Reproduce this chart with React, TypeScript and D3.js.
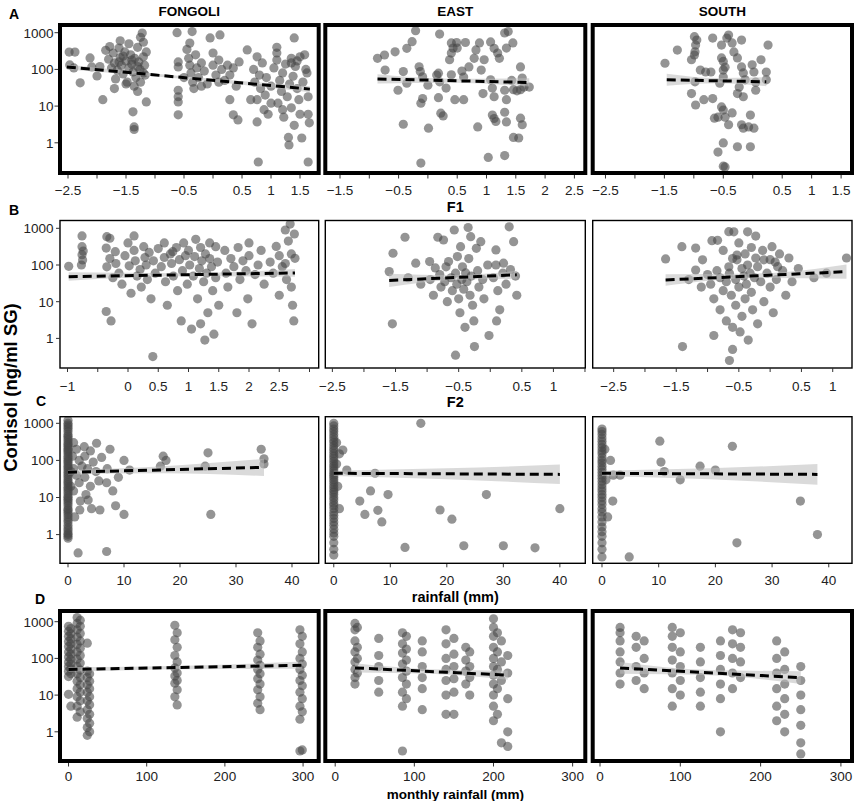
import React, { useEffect, useRef } from 'react';
import * as d3 from 'd3';

type Pt = [number, number];
type Col = [number, number[]];
type Band = [number, number, number];

const sites = ['FONGOLI', 'EAST', 'SOUTH'];
const rowLetters = ['A', 'B', 'C', 'D'];
const xTitles = ['F1', 'F2', 'rainfall (mm)', 'monthly rainfall (mm)'];
const yTicks = [1, 10, 100, 1000];

// tick labels that are printed (marks are drawn at every step)
const labelsF1Fongoli = [-2.5, -1.5, -0.5, 0.5, 1, 1.5];
const labelsF1East = [-1.5, -0.5, 0.5, 1, 1.5, 2, 2.5];
const labelsF1South = [-2.5, -1.5, -0.5, 0.5, 1, 1.5];
const labelsF2Fongoli = [-1, 0, 0.5, 1, 1.5, 2, 2.5];
const labelsF2East = [-2.5, -1.5, -0.5, 0.5, 1];
const labelsF2South = [-2.5, -1.5, -0.5, 0.5, 1];
const labelsRain = [0, 10, 20, 30, 40];
const labelsMonthly = [0, 100, 200, 300];

// ---- A: F1 (x, cortisol ng/ml)
const fongoliF1: Pt[] = [
  [-2.48, 296], [-2.38, 296], [-2.47, 132], [-2.4, 110], [-2.29, 43], [-2.12, 205], [-2.09, 117], [-2.0, 66], [-1.95, 120],
  [-1.9, 15], [-1.85, 330], [-1.8, 190], [-1.78, 420], [-1.72, 280], [-1.7, 150], [-1.68, 55], [-1.65, 95], [-1.62, 380],
  [-1.6, 210], [-1.58, 130], [-1.55, 75], [-1.52, 300], [-1.5, 170], [-1.48, 45], [-1.45, 110], [-1.42, 250], [-1.4, 140],
  [-1.38, 85], [-1.36, 35], [-1.35, 200], [-1.33, 60], [-1.3, 400], [-1.3, 25], [-1.28, 160], [-1.26, 100], [-1.25, 45],
  [-1.22, 980], [-1.2, 550], [-1.2, 220], [-1.18, 130], [-1.17, 70], [-1.15, 300], [-1.15, 13], [-1.38, 7], [-1.36, 2.7],
  [-1.36, 2.3], [-1.6, 600], [-1.7, 30], [-1.5, 40], [-1.25, 750], [-1.45, 500], [-1.55, 230], [-1.4, 180], [-1.3, 120],
  [-1.2, 80], [-1.62, 160], [-1.75, 110],
  [-0.62, 1000], [-0.6, 160], [-0.6, 117], [-0.6, 27], [-0.6, 18], [-0.6, 13], [-0.6, 5.8], [-0.36, 1070], [-0.4, 520],
  [-0.45, 350], [-0.42, 200], [-0.4, 130], [-0.38, 80], [-0.35, 45], [-0.33, 30], [-0.3, 250], [-0.28, 110], [-0.25, 60],
  [-0.2, 150], [-0.15, 90], [-0.1, 40], [-0.05, 720], [0.0, 280], [0.0, 130], [0.05, 70], [0.1, 180], [0.12, 870],
  [0.15, 100], [0.2, 50], [0.25, 130], [0.29, 70], [0.29, 15], [0.35, 5.8], [0.43, 4.2], [0.4, 35], [0.45, 160],
  [0.35, 110], [0.1, 45], [-0.2, 35], [-0.5, 60],
  [0.59, 340], [0.65, 15], [0.7, 100], [0.72, 45], [0.76, 220], [0.76, 15], [0.76, 3.7], [0.78, 0.3], [0.8, 70],
  [0.82, 30], [0.85, 150], [0.88, 8], [0.9, 20], [0.92, 60], [0.95, 6], [1.0, 35], [1.05, 110], [1.1, 400], [1.1, 280],
  [1.1, 180], [1.12, 12], [1.15, 50], [1.18, 25], [1.2, 80], [1.22, 5], [1.25, 140], [1.28, 18], [1.3, 1.4], [1.31, 0.87],
  [1.32, 40], [1.35, 200], [1.35, 9], [1.38, 65], [1.4, 720], [1.4, 3], [1.42, 120], [1.45, 30], [1.48, 15], [1.5, 220],
  [1.5, 6], [1.53, 1.35], [1.55, 45], [1.6, 100], [1.62, 80], [1.64, 18], [1.64, 6], [1.66, 3.5], [1.64, 0.3], [1.58, 250],
  [1.45, 170], [1.2, 8], [1.0, 12], [1.35, 150],
];
const eastF1: Pt[] = [
  [-0.86, 200], [-0.74, 247], [-0.73, 96], [-0.56, 302], [-0.36, 375], [-0.27, 570], [-0.21, 1130], [-0.51, 27],
  [-0.42, 87], [-0.36, 42], [-0.42, 3.2], [-0.15, 118], [-0.13, 87], [-0.09, 63], [-0.09, 16], [-0.12, 12], [-0.12, 0.28],
  [0.01, 2.5], [0.0, 37], [0.2, 920], [0.18, 79], [0.15, 70], [0.2, 46], [0.18, 17], [0.22, 6.4], [0.26, 5.4], [0.31, 31],
  [0.37, 183], [0.4, 525], [0.4, 278], [0.4, 71], [0.49, 540], [0.64, 540], [0.43, 380], [0.5, 380], [0.46, 15], [0.61, 15],
  [0.58, 90], [0.61, 62], [0.7, 117], [0.79, 200], [0.82, 340], [0.85, 2.7], [0.88, 525], [0.96, 183], [0.91, 96],
  [0.94, 22], [1.03, 0.4], [1.07, 560], [1.13, 375], [1.07, 52], [1.1, 31], [1.13, 18], [1.1, 5.7], [1.13, 4.6], [1.16, 3.8],
  [1.19, 280], [1.22, 200], [1.31, 0.45], [1.31, 980], [1.37, 1070], [1.34, 380], [1.45, 525], [1.31, 27], [1.34, 15],
  [1.31, 6.8], [1.34, 3.7], [1.43, 50], [1.46, 28], [1.52, 26], [1.58, 28], [1.46, 1.4], [1.55, 1.35], [1.58, 117],
  [1.61, 58], [1.64, 33], [1.58, 4.7], [1.61, 3.1], [1.73, 33],
];
const southF1: Pt[] = [
  [-1.49, 147], [-1.28, 337], [-1.04, 183], [-0.99, 780], [-0.95, 630], [-0.97, 460], [-0.98, 302], [-0.99, 247],
  [-0.89, 96], [-0.98, 46], [-1.04, 22], [-0.97, 10.7], [-0.83, 15], [-0.68, 16], [-0.71, 85], [-0.8, 85], [-0.68, 715],
  [-0.53, 460], [-0.53, 205], [-0.5, 165], [-0.47, 115], [-0.5, 96], [-0.44, 715], [-0.41, 860], [-0.5, 62], [-0.56, 42],
  [-0.53, 9.5], [-0.5, 7.8], [-0.59, 5], [-0.65, 4.7], [-0.47, 5], [-0.41, 3.1], [-0.35, 6.5], [-0.5, 0.99], [-0.59, 0.56],
  [-0.5, 0.23], [-0.47, 0.22], [-0.26, 0.78], [-0.04, 0.78], [-0.35, 525], [-0.19, 630], [-0.32, 300], [-0.26, 205],
  [-0.19, 117], [-0.16, 80], [-0.13, 52], [-0.23, 33], [-0.26, 22], [-0.16, 18], [-0.19, 3.1], [-0.16, 2.5], [-0.04, 5.7],
  [-0.01, 133], [0.02, 85], [0.05, 45], [0.05, 27], [0.14, 183], [0.23, 85], [0.23, 52], [0.26, 460], [-0.07, 2.7], [0.02, 2.5],
];

// ---- B: F2
const fongoliF2: Pt[] = [
  [-0.98, 92], [-0.76, 620], [-0.76, 316], [-0.76, 190], [-0.75, 137], [-0.77, 100], [-0.74, 240],
  [-0.35, 590], [-0.36, 290], [-0.35, 89], [-0.36, 5.4], [-0.3, 535], [-0.3, 150], [-0.28, 3], [-0.25, 45], [-0.21, 230],
  [-0.2, 110], [-0.15, 60], [-0.1, 30], [-0.05, 180], [0.0, 400], [0.02, 95], [0.05, 17], [0.1, 620], [0.1, 250],
  [0.12, 130], [0.15, 50], [0.2, 75], [0.22, 25], [0.26, 316], [0.28, 160], [0.3, 100], [0.32, 40], [0.35, 220], [0.38, 12],
  [0.41, 0.32], [0.42, 130], [0.45, 60], [0.5, 280], [0.55, 90], [0.6, 400], [0.6, 160], [0.62, 35], [0.65, 8], [0.7, 200],
  [0.72, 110], [0.74, 230], [0.75, 50], [0.8, 300], [0.82, 20], [0.85, 140], [0.88, 3], [0.9, 70], [0.92, 400], [0.95, 180],
  [0.98, 30], [1.0, 250], [1.02, 100], [1.05, 1.8], [1.08, 50], [1.1, 170], [1.12, 500], [1.15, 12], [1.18, 80], [1.2, 300],
  [1.2, 2.5], [1.22, 130], [1.25, 35], [1.27, 0.9], [1.28, 200], [1.3, 60], [1.32, 5], [1.35, 150], [1.35, 400], [1.38, 90],
  [1.4, 20], [1.42, 1.3], [1.45, 316], [1.45, 45], [1.48, 120], [1.5, 8], [1.6, 250], [1.62, 60], [1.65, 25], [1.7, 150],
  [1.75, 90], [1.8, 5], [1.82, 300], [1.85, 40], [1.9, 130], [1.95, 70], [1.98, 12], [2.0, 400], [2.0, 180], [2.05, 2.5],
  [2.1, 55], [2.15, 100], [2.2, 250], [2.25, 30], [2.35, 120], [2.4, 60], [2.45, 320], [2.5, 180], [2.5, 15], [2.55, 90],
  [2.6, 900], [2.62, 40], [2.65, 450], [2.68, 1300], [2.7, 200], [2.72, 8], [2.75, 700], [2.76, 152], [2.74, 3], [2.6, 110],
  [2.7, 25],
];
const eastF2: Pt[] = [
  [-1.6, 66], [-1.54, 209], [-1.55, 2.5], [-1.35, 570], [-1.3, 45], [-1.18, 112], [-1.1, 30], [-0.96, 124], [-0.95, 40],
  [-0.9, 15], [-0.87, 83], [-0.83, 570], [-0.8, 55], [-0.78, 25], [-0.74, 480], [-0.72, 35], [-0.7, 89], [-0.68, 10],
  [-0.66, 124], [-0.62, 45], [-0.6, 20], [-0.57, 900], [-0.55, 60], [-0.53, 30], [-0.52, 170], [-0.5, 12], [-0.48, 5],
  [-0.47, 316], [-0.45, 40], [-0.44, 89], [-0.42, 22], [-0.4, 2], [-0.39, 61], [-0.37, 35], [-0.35, 1050], [-0.34, 150],
  [-0.32, 15], [-0.31, 590], [-0.3, 50], [-0.28, 8], [-0.26, 3], [-0.22, 285], [-0.2, 70], [-0.18, 25], [-0.15, 432],
  [-0.12, 40], [-0.1, 12], [-0.04, 100], [-0.02, 1.2], [0.05, 45], [0.09, 257], [0.09, 100], [0.12, 20], [0.15, 6],
  [0.2, 60], [0.21, 112], [0.25, 30], [0.3, 1100], [0.32, 75], [0.37, 432], [0.4, 50], [0.42, 15], [-0.55, 0.35],
  [-0.25, 0.6], [0.1, 3],
];
const southF2: Pt[] = [
  [-1.67, 146], [-1.41, 316], [-1.19, 290], [-1.08, 138], [-1.19, 73], [-0.93, 460], [-0.84, 470], [-0.66, 810],
  [-0.58, 800], [-0.36, 800], [-0.23, 615], [0.03, 316], [-0.53, 186], [-0.53, 138], [-0.1, 138], [0.3, 155], [1.22, 155],
  [-0.66, 89], [-0.36, 100], [-0.23, 155], [0.08, 120], [0.12, 90], [-1.3, 40], [-1.1, 25], [-1.0, 55], [-0.95, 30],
  [-0.9, 12], [-0.85, 70], [-0.8, 45], [-0.8, 6], [-0.75, 20], [-0.75, 250], [-0.7, 35], [-0.7, 3], [-0.65, 60], [-0.62, 15],
  [-0.6, 150], [-0.6, 2], [-0.55, 40], [-0.55, 8], [-0.5, 400], [-0.5, 25], [-0.48, 1.5], [-0.45, 80], [-0.45, 4],
  [-0.42, 50], [-0.4, 200], [-0.4, 12], [-0.38, 30], [-0.35, 0.9], [-0.32, 60], [-0.3, 300], [-0.3, 18], [-0.28, 6],
  [-0.25, 45], [-0.2, 90], [-0.2, 2.5], [-0.15, 35], [-0.12, 250], [-0.1, 10], [-0.05, 60], [0.0, 140], [0.0, 25],
  [0.05, 5], [0.1, 40], [0.15, 200], [0.2, 70], [0.25, 15], [-0.6, 0.5], [-0.65, 0.25], [-1.4, 0.6], [-0.9, 1.2],
  [0.35, 35], [0.45, 80], [0.9, 60], [0.7, 45],
];

// ---- C: daily rainfall; dry days stacked at 0 mm
const fongoliRainDry = [1200, 1000, 900, 800, 700, 600, 500, 450, 400, 350, 300, 270, 240, 210, 190, 170, 150, 130, 115,
  100, 90, 80, 70, 62, 55, 48, 42, 37, 32, 28, 25, 22, 19, 17, 15, 13, 11, 10, 9, 8, 7, 6, 5, 4.5, 4, 3.5, 3, 2.5, 2.2, 1.8,
  1.5, 1.3, 1.1, 1, 0.9, 0.8];
const fongoliRainWet: Pt[] = [
  [0.5, 50], [0.5, 20], [0.8, 130], [1, 300], [1, 60], [1, 15], [1.2, 3], [1.5, 200], [1.5, 40], [1.8, 0.32], [2, 100],
  [2, 25], [2.2, 8], [2.1, 4.6], [2.5, 70], [2.9, 234], [3, 130], [3, 35], [3.2, 12], [3.5, 60], [3.6, 8.5], [4, 180],
  [4, 20], [4.2, 5], [4.5, 90], [5, 50], [5.1, 290], [5.5, 28], [5.7, 4.6], [6, 120], [6.9, 0.35], [6.9, 25], [7, 60],
  [7.5, 200], [8, 15], [8.5, 6], [9, 35], [10, 100], [10, 3.5], [11, 55], [16.5, 70], [17, 130], [17.5, 100], [24.5, 70],
  [25, 160], [25.5, 3.5], [34.5, 200], [35, 110], [35, 80],
];
const eastRainDry = [1000, 850, 700, 600, 500, 420, 350, 300, 250, 210, 180, 150, 130, 110, 95, 80, 70, 60, 52, 45, 40,
  35, 30, 26, 22, 19, 16, 14, 12, 10, 8.5, 7, 6, 5, 4, 3.3, 2.7, 2.2, 1.8, 1.4, 1.1, 0.9, 0.6, 0.4, 0.28];
const eastRainWet: Pt[] = [
  [0.5, 300], [0.5, 80], [0.7, 20], [1, 150], [1, 5], [1.6, 190], [2.3, 55], [4.6, 8], [5.5, 3.5], [6.5, 15], [7.3, 45],
  [7.8, 4.5], [8.5, 2.2], [9.6, 12], [12.6, 0.45], [15.4, 1000], [18.8, 4.6], [20.9, 2.6], [23, 0.5], [27, 12], [30, 0.5],
  [35.6, 0.44], [40, 5],
];
const southRainDry = [700, 600, 500, 400, 330, 270, 220, 180, 150, 120, 100, 85, 70, 58, 48, 40, 33, 27, 22, 18, 15, 12,
  10, 8, 6.5, 5, 4, 3, 2.2, 1.6, 1.2, 0.9, 0.6, 0.4, 0.25];
const southRainWet: Pt[] = [
  [0.5, 200], [0.7, 30], [1, 3], [1.5, 100], [2, 40], [1.9, 8], [3.2, 40], [4.8, 0.25], [10.2, 330], [10.4, 90], [11, 50],
  [13.8, 30], [17.3, 70], [20, 55], [23, 240], [23.8, 0.6], [35, 8], [38, 1],
];

// ---- D: monthly rainfall, samples stacked by month
const fongoliMonthly: Col[] = [
  [0, [750, 550, 400, 290, 210, 150, 110, 80, 60, 45, 32, 10.5]],
  [3, [650, 470, 340, 250, 180, 130, 95, 70, 52, 38, 5]],
  [11, [1300, 900, 600, 380, 240, 150, 95, 60, 38, 24, 15, 9, 5, 2.5]],
  [15, [1100, 750, 480, 300, 190, 120, 75, 48, 30, 19, 12, 7, 3.5]],
  [24, [260, 45, 30, 19, 12, 7, 4, 2.3, 1.3, 0.8]],
  [27, [38, 24, 15, 9, 5.5, 3, 1.7, 1]],
  [136, [800, 320, 120, 55, 33, 21, 9]],
  [139, [500, 200, 80, 40, 25, 14, 5.4]],
  [242, [500, 200, 90, 50, 28, 14, 6]],
  [245, [300, 130, 65, 38, 20, 9, 4]],
  [296, [600, 250, 100, 50, 25, 12, 5, 2.2, 0.3]],
  [299, [400, 150, 70, 35, 18, 8, 3.5, 0.32]],
];
const eastMonthly: Col[] = [
  [25, [900, 600, 300, 150, 80, 50, 30, 20]],
  [28, [700, 200, 100, 40]],
  [55, [350, 120, 60, 25, 12]],
  [85, [500, 250, 140, 70, 30, 12, 5, 0.3]],
  [90, [400, 180, 90, 45, 20, 8]],
  [110, [300, 150, 60, 30, 15, 4]],
  [140, [600, 250, 100, 50, 25, 10, 3]],
  [150, [350, 130, 60, 28, 12, 3]],
  [165, [200, 90, 45, 20]],
  [170, [150, 60, 30, 10]],
  [200, [1200, 700, 400, 200, 100, 60, 35, 20, 10, 5, 2]],
  [205, [500, 150, 50, 15, 3]],
  [210, [300, 80, 25, 0.5]],
  [218, [120, 40, 8, 1, 0.4]],
];
const southMonthly: Col[] = [
  [25, [700, 500, 300, 150, 80, 40, 20]],
  [45, [400, 200, 60, 25]],
  [55, [300, 100, 40, 15]],
  [90, [700, 400, 200, 90, 40, 15, 5]],
  [100, [500, 150, 60, 25, 10]],
  [125, [200, 80, 30, 12, 5]],
  [150, [300, 120, 50, 20, 8, 1]],
  [165, [600, 250, 100, 40, 15]],
  [175, [500, 200, 80, 30]],
  [220, [300, 100, 40, 15, 5, 2]],
  [230, [150, 50, 20, 8, 3, 1]],
  [250, [60, 25, 10, 4, 1.5, 0.5, 0.25]],
];

// ---- fitted lines (ends) and confidence bands [x, low, high]
const fitFongoliF1: Pt[] = [[-2.52, 117], [1.67, 29]];
const bandFongoliF1: Band[] = [[-2.52, 100, 137], [-0.4, 53, 63], [1.67, 24, 35]];
const fitEastF1: Pt[] = [[-0.86, 55], [1.73, 44]];
const bandEastF1: Band[] = [[-0.86, 41, 74], [0.43, 43, 56], [1.73, 34, 57]];
const fitSouthF1: Pt[] = [[-1.46, 52], [0.23, 46]];
const bandSouthF1: Band[] = [[-1.46, 36, 76], [-0.6, 42, 58], [0.23, 35, 61]];
const fitFongoliF2: Pt[] = [[-0.98, 48], [2.76, 61]];
const bandFongoliF2: Band[] = [[-0.98, 37, 63], [0.9, 49, 60], [2.76, 48, 78]];
const fitEastF2: Pt[] = [[-1.6, 38], [0.42, 54]];
const bandEastF2: Band[] = [[-1.6, 25, 58], [-0.6, 39, 53], [0.42, 42, 70]];
const fitSouthF2: Pt[] = [[-1.67, 39], [1.22, 66]];
const bandSouthF2: Band[] = [[-1.67, 27, 56], [-0.2, 44, 59], [1.22, 42, 104]];
const fitFongoliRain: Pt[] = [[0, 48], [35, 65]];
const bandFongoliRain: Band[] = [[0, 42, 55], [17, 45, 70], [35, 38, 110]];
const fitEastRain: Pt[] = [[0, 45], [40, 42]];
const bandEastRain: Band[] = [[0, 38, 53], [20, 31, 61], [40, 23, 77]];
const fitSouthRain: Pt[] = [[0, 45], [38, 42]];
const bandSouthRain: Band[] = [[0, 38, 53], [19, 31, 61], [38, 22, 80]];
const fitFongoliMonthly: Pt[] = [[0, 50], [299, 65]];
const bandFongoliMonthly: Band[] = [[0, 43, 58], [150, 51, 63], [299, 52, 82]];
const fitEastMonthly: Pt[] = [[25, 55], [218, 35]];
const bandEastMonthly: Band[] = [[25, 41, 74], [120, 38, 51], [218, 26, 47]];
const fitSouthMonthly: Pt[] = [[25, 55], [250, 30]];
const bandSouthMonthly: Band[] = [[25, 38, 80], [137, 35, 48], [250, 20, 45]];

const stack = (dry: number[], wet: Pt[]): Pt[] => [...dry.map(y => [0, y] as Pt), ...wet];
const unstack = (cols: Col[]): Pt[] => cols.flatMap(([x, ys]) => ys.map(y => [x, y] as Pt));

const rows = [
  { top: 25, bottom: 173, y1000: 32.7, decade: 36.7, thick: true, labelY: 194.5, titleY: 211.5, letterX: 9, letterY: 18.5 },
  { top: 220.5, bottom: 368, y1000: 228.3, decade: 36.7, thick: false, labelY: 391, titleY: 407, letterX: 9, letterY: 215 },
  { top: 416.7, bottom: 563.3, y1000: 423.3, decade: 37.1, thick: false, labelY: 585, titleY: 602, letterX: 36, letterY: 406 },
  { top: 611, bottom: 761, y1000: 621.7, decade: 36.7, thick: true, labelY: 781, titleY: 798.5, letterX: 35, letterY: 604 },
];
const cols = [
  { left: 60, right: 318.7 },
  { left: 325.3, right: 585.3 },
  { left: 592.7, right: 852 },
];

const panels = [
  { row: 0, col: 0, pts: fongoliF1, fit: fitFongoliF1, band: bandFongoliF1, dom: [-2.638, 1.822], step: 0.5, labels: labelsF1Fongoli },
  { row: 0, col: 1, pts: eastF1, fit: fitEastF1, band: bandEastF1, dom: [-1.751, 2.686], step: 0.5, labels: labelsF1East },
  { row: 0, col: 2, pts: southF1, fit: fitSouthF1, band: bandSouthF1, dom: [-2.717, 1.685], step: 0.5, labels: labelsF1South },
  { row: 1, col: 0, pts: fongoliF2, fit: fitFongoliF2, band: bandFongoliF2, dom: [-1.124, 3.152], step: 0.5, labels: labelsF2Fongoli },
  { row: 1, col: 1, pts: eastF2, fit: fitEastF2, band: bandEastF2, dom: [-2.612, 1.505], step: 0.5, labels: labelsF2East },
  { row: 1, col: 2, pts: southF2, fit: fitSouthF2, band: bandSouthF2, dom: [-2.835, 1.308], step: 0.5, labels: labelsF2South },
  { row: 2, col: 0, pts: stack(fongoliRainDry, fongoliRainWet), fit: fitFongoliRain, band: bandFongoliRain, dom: [-1.43, 44.77], step: 10, labels: labelsRain },
  { row: 2, col: 1, pts: stack(eastRainDry, eastRainWet), fit: fitEastRain, band: bandEastRain, dom: [-1.5, 44.5], step: 10, labels: labelsRain },
  { row: 2, col: 2, pts: stack(southRainDry, southRainWet), fit: fitSouthRain, band: bandSouthRain, dom: [-1.64, 44.1], step: 10, labels: labelsRain },
  { row: 3, col: 0, pts: unstack(fongoliMonthly), fit: fitFongoliMonthly, band: bandFongoliMonthly, dom: [-10.9, 320], step: 100, labels: labelsMonthly },
  { row: 3, col: 1, pts: unstack(eastMonthly), fit: fitEastMonthly, band: bandEastMonthly, dom: [-12.5, 316], step: 100, labels: labelsMonthly },
  { row: 3, col: 2, pts: unstack(southMonthly), fit: fitSouthMonthly, band: bandSouthMonthly, dom: [-9.1, 313.8], step: 100, labels: labelsMonthly },
];

const FONT = '"Liberation Sans", Arial, Helvetica, sans-serif';
const fmt = (v: number) => (v < 0 ? '\u2212' + Math.abs(v) : String(v));

const App: React.FC = () => {
  const ref = useRef<SVGSVGElement>(null);

  useEffect(() => {
    const svg = d3.select(ref.current);
    svg.selectAll('*').remove();
    const defs = svg.append('defs');

    panels.forEach((p, i) => {
      const r = rows[p.row];
      const c = cols[p.col];
      const x = d3.scaleLinear().domain(p.dom).range([c.left, c.right]);
      const lo = Math.pow(10, 3 - (r.bottom - r.y1000) / r.decade);
      const hi = Math.pow(10, 3 + (r.y1000 - r.top) / r.decade);
      const y = d3.scaleLog().domain([lo, hi]).range([r.bottom, r.top]);

      defs.append('clipPath').attr('id', `clip${i}`)
        .append('rect')
        .attr('x', c.left).attr('y', r.top)
        .attr('width', c.right - c.left).attr('height', r.bottom - r.top);

      const g = svg.append('g');
      const plot = g.append('g').attr('clip-path', `url(#clip${i})`);

      plot.selectAll('circle').data(p.pts).enter().append('circle')
        .attr('cx', d => x(d[0]))
        .attr('cy', d => y(d[1]))
        .attr('r', 4.6)
        .attr('fill', '#474747')
        .attr('fill-opacity', 0.58);

      const area = d3.area<Band>()
        .x(d => x(d[0])).y0(d => y(d[1])).y1(d => y(d[2]))
        .curve(d3.curveMonotoneX);
      plot.append('path').datum(p.band).attr('d', area)
        .attr('fill', '#bcbcbc').attr('fill-opacity', 0.55);

      const line = d3.line<Pt>().x(d => x(d[0])).y(d => y(d[1]));
      plot.append('path').datum(p.fit).attr('d', line)
        .attr('fill', 'none').attr('stroke', '#000')
        .attr('stroke-width', 3).attr('stroke-dasharray', '9,5');

      // x ticks
      const start = Math.ceil(p.dom[0] / p.step) * p.step;
      const ticks = d3.range(start, p.dom[1] + 1e-9, p.step).map(v => +v.toFixed(6));
      const tickTop = r.bottom + (r.thick ? 2 : 0.5);
      g.selectAll('.xt').data(ticks).enter().append('line')
        .attr('x1', d => x(d)).attr('x2', d => x(d))
        .attr('y1', tickTop).attr('y2', tickTop + 3.5)
        .attr('stroke', '#333').attr('stroke-width', 1);
      g.selectAll('.xl').data(p.labels).enter().append('text')
        .attr('x', d => x(d)).attr('y', r.labelY)
        .attr('text-anchor', 'middle')
        .attr('font-family', FONT).attr('font-size', 13.5).attr('fill', '#222')
        .text(d => fmt(d));

      // y axis only on the first column
      if (p.col === 0) {
        const edge = c.left - (r.thick ? 2 : 0.5);
        g.selectAll('.yt').data(yTicks).enter().append('line')
          .attr('x1', edge - 3.5).attr('x2', edge)
          .attr('y1', d => y(d)).attr('y2', d => y(d))
          .attr('stroke', '#333').attr('stroke-width', 1);
        g.selectAll('.yl').data(yTicks).enter().append('text')
          .attr('x', 53.5).attr('y', d => y(d) + 4.8)
          .attr('text-anchor', 'end')
          .attr('font-family', FONT).attr('font-size', 13.5).attr('fill', '#222')
          .text(d => String(d));
      }

      g.append('rect')
        .attr('x', c.left).attr('y', r.top)
        .attr('width', c.right - c.left).attr('height', r.bottom - r.top)
        .attr('fill', 'none').attr('stroke', '#000')
        .attr('stroke-width', r.thick ? 4 : 1.4);
    });

    // strip titles
    svg.selectAll('.site').data(sites).enter().append('text')
      .attr('x', (_, i) => (cols[i].left + cols[i].right) / 2).attr('y', 15.5)
      .attr('text-anchor', 'middle')
      .attr('font-family', FONT).attr('font-size', 13.5).attr('font-weight', 'bold')
      .text(d => d);

    // row letters and x titles
    rows.forEach((r, i) => {
      svg.append('text').attr('x', r.letterX).attr('y', r.letterY)
        .attr('font-family', FONT).attr('font-size', 14).attr('font-weight', 'bold')
        .text(rowLetters[i]);
      svg.append('text').attr('x', (cols[1].left + cols[1].right) / 2).attr('y', r.titleY)
        .attr('text-anchor', 'middle')
        .attr('font-family', FONT).attr('font-size', i === 3 ? 13.5 : 14.5).attr('font-weight', 'bold')
        .text(xTitles[i]);
    });

    svg.append('text')
      .attr('transform', 'translate(17,387.5) rotate(-90)')
      .attr('text-anchor', 'middle')
      .attr('font-family', FONT).attr('font-size', 18.5).attr('font-weight', 'bold')
      .text('Cortisol (ng/ml SG)');
  }, []);

  return (
    <svg ref={ref} width={856} height={801}
      style={{ position: 'absolute', left: 0, top: 0, background: '#fff' }} />
  );
};

export default App;
